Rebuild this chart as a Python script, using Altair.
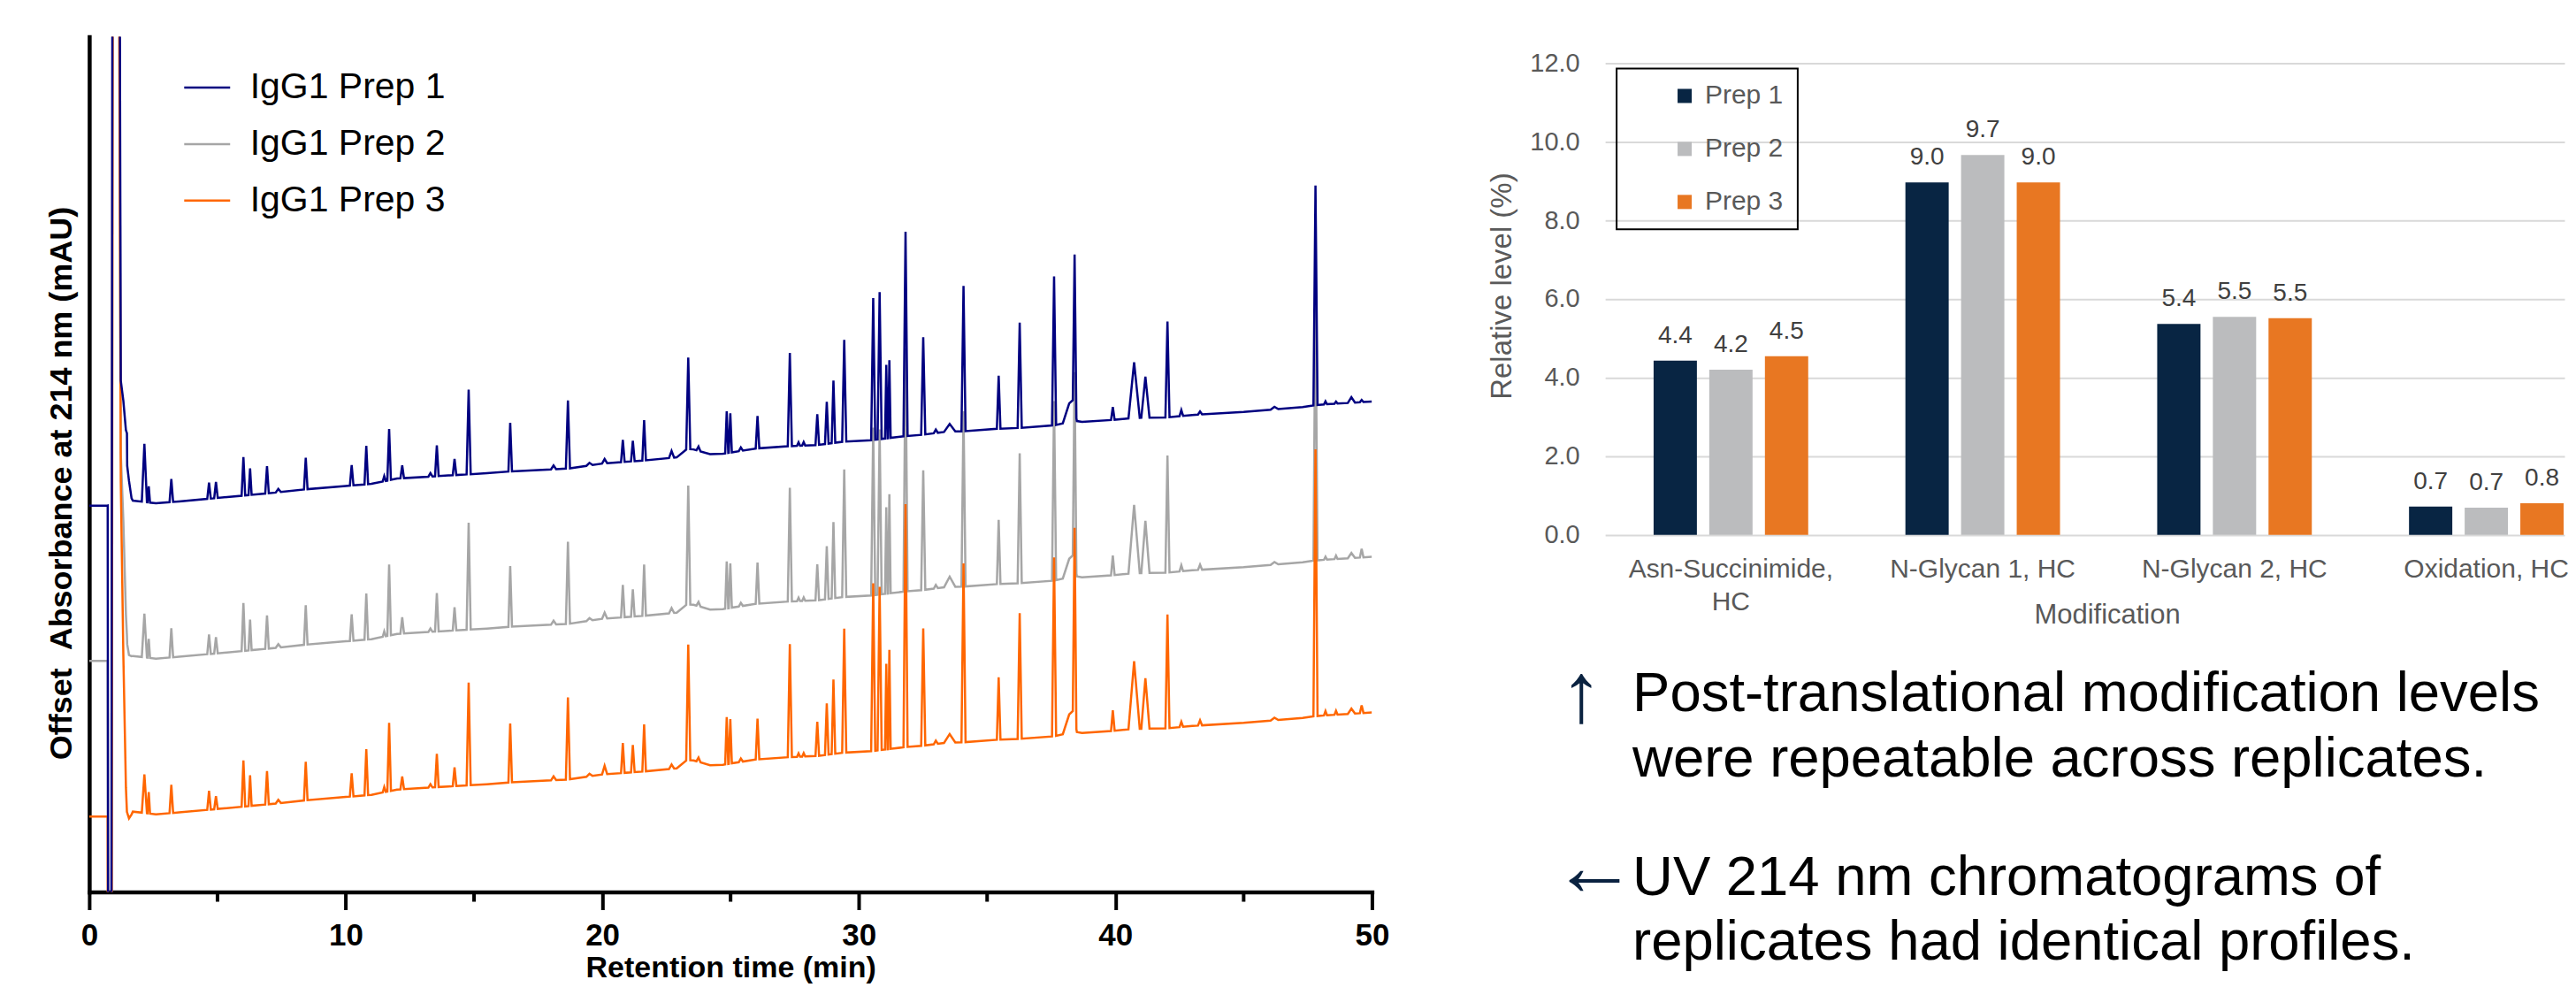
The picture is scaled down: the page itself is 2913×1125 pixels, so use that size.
import altair as alt
import numpy as np
import pandas as pd

# ---------------- Chromatogram (left panel) ----------------
PREPS = ["IgG1 Prep 1", "IgG1 Prep 2", "IgG1 Prep 3"]
PREP_COLORS = ["#000080", "#A6A6A6", "#FF6600"]
OFFSETS = [36.36, 18.2, 0.0]          # display offset of each trace

# baseline knots (time in min, signal in plot units)
BASE_T = [0.0, 0.70, 1.70, 2.60, 3.50, 5.00, 7.00, 8.50, 10.0, 11.0, 12.0, 14.0,
          15.5, 16.4, 18.7, 20.0, 21.6, 22.9, 23.3, 23.55, 24.2, 24.7, 26.0, 27.3,
          28.4, 29.4, 30.5, 31.8, 32.5, 33.4, 34.1, 35.4, 36.3, 37.6, 37.95, 38.2,
          38.35, 38.5, 38.7, 39.9, 40.7, 42.0, 43.0, 45.0, 47.3, 47.7, 48.2, 50.0]
BASE_Y = [8.81, 8.81, 9.40, 9.09, 9.30, 9.71, 10.26, 10.74, 11.11, 11.36, 11.98, 12.34,
          12.60, 12.81, 13.16, 13.74, 14.09, 14.46, 15.44, 15.39, 14.83, 14.88, 15.50, 15.77,
          15.91, 16.29, 16.47, 16.94, 17.11, 17.46, 17.51, 17.80, 17.91, 18.20, 18.44, 20.76,
          21.18, 18.70, 18.60, 18.84, 19.07, 19.13, 19.42, 19.77, 20.35, 20.53, 20.66, 20.99]

# injection dip / void-volume spike (relative to baseline)
EARLY_T = [0.72, 0.74, 0.86, 0.92, 1.15, 1.23, 1.33, 1.43, 1.47, 1.48, 1.55, 1.65]
EARLY_1 = [0, -60, -60, 110, 110, 14.3, 11.9, 8.4, 8.0, 4.2, 2.4, 0.3]
EARLY_2 = [0, -60, -60, 110, 110, 24.0, 16.0, 5.0, 2.5, 1.5, 0.2, 0.0]
EARLY_3 = [0, -60, -60, 110, 110, 38.9, 18.5, 3.0, 0.1, 0.0, -0.7, -0.3]

# peaks: apex retention time, half width at base, height above baseline per prep
PEAK_T = [2.15, 2.32, 3.20, 4.67, 4.94, 6.01, 6.27, 6.93, 7.37, 8.44, 10.23, 10.80,
          11.50, 11.69, 12.20, 13.30, 13.55, 14.24, 14.79, 16.41, 18.10, 18.66, 19.50,
          20.09, 20.80, 21.19, 21.63, 22.70, 23.35, 23.75, 24.85, 24.99, 25.40, 26.05,
          27.31, 27.65, 27.85, 28.38, 28.75, 29.01, 29.43, 30.56, 30.81, 31.07, 31.19,
          31.82, 32.51, 33.00, 33.54, 34.08, 35.45, 36.27, 37.61, 38.41, 39.90, 40.73,
          41.17, 42.03, 42.57, 43.30, 46.20, 47.80, 48.19, 48.60, 49.20, 49.60]
PEAK_HW = [0.10, 0.05, 0.07, 0.07, 0.07, 0.07, 0.06, 0.07, 0.10, 0.07, 0.07, 0.07,
           0.06, 0.07, 0.07, 0.08, 0.07, 0.07, 0.08, 0.07, 0.10, 0.08, 0.12,
           0.10, 0.07, 0.07, 0.07, 0.10, 0.08, 0.08, 0.06, 0.06, 0.08, 0.07,
           0.08, 0.06, 0.06, 0.07, 0.07, 0.07, 0.08, 0.08, 0.08, 0.05, 0.05,
           0.08, 0.08, 0.08, 0.22, 0.08, 0.07, 0.08, 0.08, 0.07, 0.07, 0.22,
           0.16, 0.08, 0.07, 0.08, 0.15, 0.08, 0.06, 0.06, 0.14, 0.07]
PEAK_H1 = [6.8, 1.9, 2.7, 1.9, 1.9, 4.5, 3.1, 3.2, 0.4, 3.7, 2.4, 4.5,
           0.6, 6.0, 1.5, 0.4, 3.6, 1.9, 9.9, 5.7, 0.45, 7.95, 0.3,
           0.5, 2.6, 2.4, 4.7, 0.8, 10.7, 0.5, 4.9, 4.6, 0.4, 3.8,
           10.9, 0.4, 0.4, 3.6, 4.9, 7.3, 11.9, 16.6, 17.2, 8.6, 9.1,
           23.9, 11.4, 0.4, 0.9, 17.0, 6.2, 12.3, 17.4, 18.0, 1.5, 6.5,
           4.8, 11.2, 0.7, 0.35, 0.3, 25.7, 0.35, 0.25, 0.65, 0.25]
PEAK_H2 = [5.1, 2.2, 3.4, 2.3, 1.9, 5.6, 3.6, 3.9, 0.4, 4.6, 3.1, 5.4,
           0.6, 8.3, 1.9, 0.4, 4.5, 2.7, 12.5, 7.1, 0.45, 9.6, 0.3,
           0.7, 3.8, 3.2, 6.0, 0.6, 13.9, 0.5, 5.5, 5.2, 0.4, 4.8,
           13.3, 0.4, 0.4, 4.2, 6.2, 8.9, 14.9, 19.6, 19.3, 10.1, 11.6,
           28.4, 14.0, 0.4, 1.2, 20.5, 7.5, 15.2, 21.0, 22.4, 2.3, 8.0,
           6.1, 13.7, 0.7, 0.6, 0.3, 31.0, 0.35, 0.4, 0.6, 1.0]
PEAK_H3 = [4.5, 2.5, 3.3, 2.2, 1.5, 5.4, 3.6, 3.9, 0.4, 4.5, 2.7, 5.4,
           0.6, 8.0, 1.5, 0.4, 3.9, 2.2, 12.0, 6.9, 0.45, 9.6, 0.3,
           1.0, 3.5, 3.2, 5.5, 0.5, 13.5, 0.5, 5.5, 5.2, 0.4, 4.75,
           13.2, 0.4, 0.4, 4.0, 6.0, 8.7, 14.5, 19.6, 19.1, 10.0, 11.6,
           28.4, 13.7, 0.4, 1.0, 20.9, 7.3, 14.7, 20.9, 22.4, 2.4, 7.9,
           5.9, 13.3, 0.6, 0.6, 0.3, 31.2, 0.5, 0.45, 0.6, 0.9]

MAJOR_TICKS = [0, 10, 20, 30, 40, 50]
MINOR_TICKS = [5, 15, 25, 35, 45]

# ---------------- PTM levels (right panel) ----------------
MODS = ["Asn-Succinimide, HC", "N-Glycan 1, HC", "N-Glycan 2, HC", "Oxidation, HC"]
BAR_PREPS = ["Prep 1", "Prep 2", "Prep 3"]
BAR_COLORS = ["#082543", "#BBBCBE", "#E87722"]
LEVEL_P1 = [4.43, 8.96, 5.36, 0.72]
LEVEL_P2 = [4.20, 9.66, 5.54, 0.69]
LEVEL_P3 = [4.54, 8.96, 5.51, 0.80]
Y_TICKS = [0, 2, 4, 6, 8, 10, 12]

NOTE_1 = ["Post-translational modification levels", "were repeatable across replicates."]
NOTE_2 = ["UV 214 nm chromatograms of", "replicates had identical profiles."]

FONT = "Liberation Sans"

# ---------------- build chromatogram table ----------------
bt = np.array(BASE_T)
by = np.array(BASE_Y)


def base(t):
    return float(np.interp(t, bt, by))


rows = []
for i, (heights, early) in enumerate([(PEAK_H1, EARLY_1), (PEAK_H2, EARLY_2), (PEAK_H3, EARLY_3)]):
    windows = [(t - hw, t + hw) for t, hw in zip(PEAK_T, PEAK_HW)]
    pts = []
    for t, y in zip(BASE_T, BASE_Y):
        if EARLY_T[0] <= t <= EARLY_T[-1]:
            continue
        if any(a <= t <= b for a, b in windows):
            continue
        pts.append((t, y))
    for t, r in zip(EARLY_T, early):
        pts.append((t, base(t) + r))
    for t, hw, h in zip(PEAK_T, PEAK_HW, heights):
        pts.append((t - hw, base(t - hw)))
        pts.append((t, base(t) + h))
        pts.append((t + hw, base(t + hw)))
    pts.sort()
    for k, (t, y) in enumerate(pts):
        rows.append({"prep": PREPS[i], "time": t, "signal": y + OFFSETS[i], "order": k})
chrom_df = pd.DataFrame(rows)

x_axis_left = alt.Axis(values=MAJOR_TICKS, format="d", title="Retention time (min)",
                       titleFontSize=34, titleFontWeight="bold", titleColor="black",
                       titlePadding=2, labelFontSize=35, labelFontWeight="bold",
                       labelColor="black", labelPadding=12, labelFlush=False,
                       tickSize=20, tickWidth=4, tickColor="black", domainColor="black",
                       domainWidth=4.5, domainCap="square", grid=False)
y_axis_left = alt.Axis(title="Offset\u00a0\u00a0Absorbance at 214 nm (mAU)", labels=False,
                       ticks=False, grid=False, domainColor="black", domainWidth=4.5,
                       domainCap="square", titleFontSize=36, titleFontWeight="bold",
                       titleColor="black", titlePadding=12, titleY=505)
x_scale_left = alt.Scale(domain=[0, 50], nice=False)
y_scale_left = alt.Scale(domain=[0, 100], nice=False)
legend_left = alt.Legend(orient="none", legendX=106, legendY=30, title=None,
                         symbolType="stroke", symbolSize=2704, symbolStrokeWidth=2.5,
                         labelFontSize=41, labelColor="black", labelOffset=21,
                         labelLimit=600, rowPadding=16, padding=0, labelFont=FONT)
color_left = alt.Scale(domain=PREPS, range=PREP_COLORS)


def trace(name):
    return alt.Chart(chrom_df).transform_filter(alt.datum.prep == name).mark_line(
        clip=True, strokeWidth=2.5).encode(
        x=alt.X("time:Q", scale=x_scale_left, axis=x_axis_left),
        y=alt.Y("signal:Q", scale=y_scale_left, axis=y_axis_left),
        color=alt.Color("prep:N", scale=color_left, legend=legend_left),
        order="order:Q")


minor = alt.Chart(pd.DataFrame({"time": MINOR_TICKS})).mark_rule(
    color="black", strokeWidth=4).encode(
    x=alt.X("time:Q", scale=x_scale_left, axis=x_axis_left),
    y=alt.value(968), y2=alt.value(979))

left = alt.layer(trace(PREPS[1]), trace(PREPS[2]), trace(PREPS[0]), minor).properties(
    width=1452, height=968)

# ---------------- bar chart ----------------
bar_rows = []
for s, vals in zip(BAR_PREPS, [LEVEL_P1, LEVEL_P2, LEVEL_P3]):
    for m, v in zip(MODS, vals):
        bar_rows.append({"mod": m, "sample": s, "level": v})
bar_df = pd.DataFrame(bar_rows)

x_bar = alt.X("mod:N", sort=MODS,
              scale=alt.Scale(paddingInner=0.386, paddingOuter=0.098, align=0.982),
              axis=alt.Axis(title="Modification", titleFontSize=31, titleFontWeight="normal",
                            titleColor="#595959", titleX=568, titleY=91,
                            titleBaseline="middle", labelFontSize=30, labelColor="#595959",
                            labelPadding=24, labelLineHeight=37, labelAngle=0,
                            labelLimit=600, domain=False, ticks=False,
                            labelExpr="datum.label == 'Asn-Succinimide, HC' ? ['Asn-Succinimide,', 'HC'] : datum.label"))
xoff_bar = alt.XOffset("sample:N", sort=BAR_PREPS,
                       scale=alt.Scale(paddingInner=0.2222, paddingOuter=0))
y_bar = alt.Y("level:Q", scale=alt.Scale(domain=[0, 12.667], nice=False),
              axis=alt.Axis(values=Y_TICKS, format=".1f", title="Relative level (%)",
                            titleFontSize=33, titleFontWeight="normal", titleColor="#595959",
                            titlePadding=14, labelFontSize=29, labelColor="#595959",
                            labelPadding=29, domain=False, ticks=False, grid=True,
                            gridColor="#D9D9D9", gridWidth=2))
color_bar = alt.Color("sample:N", scale=alt.Scale(domain=BAR_PREPS, range=BAR_COLORS),
                      legend=alt.Legend(orient="none", legendX=13, legendY=36, title=None,
                                        symbolType="square", symbolSize=256,
                                        symbolStrokeWidth=0, labelFontSize=30,
                                        labelColor="#595959", rowPadding=30, padding=16,
                                        strokeColor="black", symbolOffset=46, labelOffset=8,
                                        labelExpr="datum.label + '\u00a0\u00a0\u00a0'"))

bars = alt.Chart(bar_df).mark_bar().encode(x=x_bar, xOffset=xoff_bar, y=y_bar, color=color_bar)
bar_labels = alt.Chart(bar_df).mark_text(dy=-20, baseline="alphabetic", fontSize=28,
                                         color="#404040").encode(
    x=x_bar, xOffset=xoff_bar, y=y_bar, text=alt.Text("level:Q", format=".1f"))

note1 = alt.Chart(pd.DataFrame({"note": ["\n".join(NOTE_1)]})).mark_text(
    align="left", baseline="alphabetic", fontSize=63.5, font=FONT, lineBreak="\n",
    lineHeight=74, color="black").encode(text="note:N", x=alt.value(31), y=alt.value(763))
note2 = alt.Chart(pd.DataFrame({"note": ["\n".join(NOTE_2)]})).mark_text(
    align="left", baseline="alphabetic", fontSize=63.5, font=FONT, lineBreak="\n",
    lineHeight=74, color="black").encode(text="note:N", x=alt.value(31), y=alt.value(971))
arrow1 = alt.Chart(pd.DataFrame({"a": ["\u2191"]})).mark_text(
    align="center", baseline="middle", fontSize=96, font=FONT, color="#0A2240").encode(
    text="a:N", x=alt.value(-27), y=alt.value(746))
arrow2 = alt.Chart(pd.DataFrame({"a": ["\u2190"]})).mark_text(
    align="center", baseline="middle", fontSize=96, font=FONT, color="#0A2240").encode(
    text="a:N", x=alt.value(-12), y=alt.value(942))

right = alt.layer(bars, bar_labels, note1, note2, arrow1, arrow2).properties(
    width=1086, height=563.7)

chart = alt.hconcat(left, right, spacing=264, bounds="flush").resolve_scale(
    color="independent").resolve_legend(color="independent").properties(
    padding={"left": 44, "top": 33, "right": 0, "bottom": 0}).configure(
    font=FONT).configure_view(stroke=None).configure_legend(strokeWidth=2)

chart.save("out.html", embed_options={"renderer": "svg", "actions": False})
